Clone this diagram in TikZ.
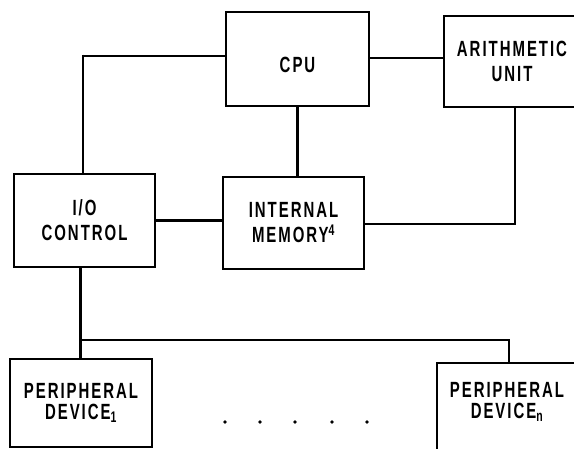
\documentclass[tikz,border=0pt]{standalone}
\usepackage{fontspec}
\newfontfamily\lbl{Liberation Sans}[FakeStretch=0.68,LetterSpace=9]
\begin{document}
\begin{tikzpicture}[x=1pt,y=-1pt,
  box/.style={draw, line width=2.6pt, inner sep=0pt, align=center,
    font=\lbl\bfseries\fontsize{22}{25}\selectfont},
  devfont/.style={font=\lbl\bfseries\fontsize{22}{21}\selectfont},
  link/.style={line width=2.6pt},
  dotmark/.style={fill=black}]
\useasboundingbox (0,0) rectangle (574,448);
\clip (0,0) rectangle (574,448);
% boxes
\node[box, minimum width=143pt, minimum height=94pt] (cpu) at (297.5,59)
  {\raisebox{-6pt}[\height][\depth]{CPU}};
\node[box, minimum width=136pt, minimum height=91pt] (arith) at (512,61.5)
  {ARITHMETIC\\UNIT};
\node[box, minimum width=141pt, minimum height=93pt] (io) at (84.5,220.5)
  {I/O\\CONTROL};
\node[box, minimum width=141pt, minimum height=92pt] (mem) at (293.5,223)
  {INTERNAL\\MEMORY\textsuperscript{4}};
\node[box, devfont, minimum width=142pt, minimum height=88pt] (dev1) at (81,403)
  {PERIPHERAL\\DEVICE\textsubscript{1}};
\node[box, minimum width=140pt, minimum height=100pt,
  label={[devfont, align=center, yshift=11pt]center:PERIPHERAL\\DEVICE\textsubscript{n}}]
  (devn) at (507,413) {};
% end points and corners of the bent connectors
\coordinate (cw) at ([yshift=3pt]cpu.west);
\coordinate (ion) at ([xshift=-1.5pt]io.north);
\coordinate (c1) at (ion |- cw);
\coordinate (me) at ([yshift=-1pt]mem.east);
\coordinate (as) at ([xshift=3pt]arith.south);
\coordinate (c2) at (as |- me);
\coordinate (bus) at (80.5,340);
\coordinate (dn) at ([xshift=2pt]devn.north);
\coordinate (c3) at (dn |- bus);
% connectors
\draw[link] (cw) -- ([xshift=-1.3pt]c1);
\draw[link] ([yshift=1.3pt]c1) -- (ion);
\draw[link] ([yshift=1pt]cpu.east) -- ([yshift=1pt]cpu.east -| arith.west);
\draw[link] (cpu.south) -- (cpu.south |- mem.north);
\draw[link] (io.east) -- (io.east -| mem.west);
\draw[link] (me) -- ([xshift=1.3pt]c2);
\draw[link] (c2) -- (as);
\draw[link] ([xshift=-4pt]io.south) -- ([xshift=-4pt]io.south |- dev1.north);
\draw[link] (bus) -- ([xshift=1.3pt]c3);
\draw[link] (c3) -- (dn);
% ellipsis dots
\foreach \x in {225,260,295,332,367} \fill[dotmark] (\x,422) circle (1.8pt);
\end{tikzpicture}
\end{document}
